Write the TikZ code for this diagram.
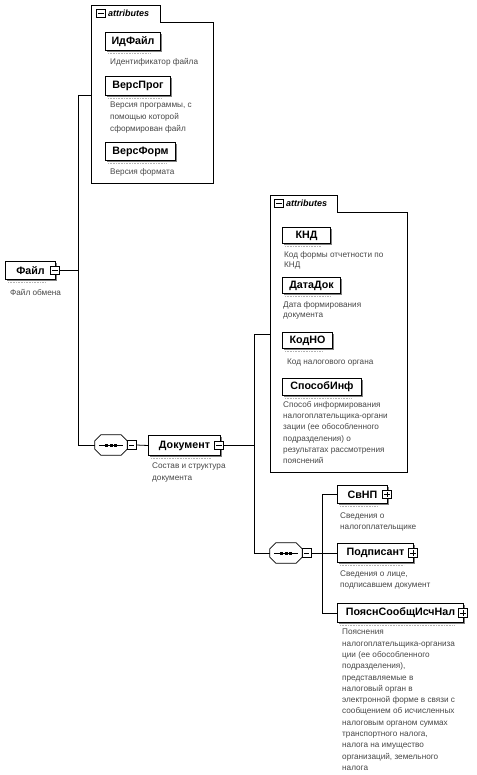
\documentclass[tikz,border=0pt]{standalone}
\usepackage{fontspec}
\setmainfont{Liberation Sans}
\usetikzlibrary{calc,shadows}

\begin{document}
\begin{tikzpicture}[x=1pt,y=-1pt,
    elem/.style={draw,line width=1pt,fill=white,anchor=north west,inner sep=0pt,
        font=\bfseries\fontsize{10.7}{12}\selectfont,
        drop shadow={shadow xshift=1.2pt,shadow yshift=-1.2pt,fill=black!50,opacity=1}},
    note/.style={anchor=north west,align=left,inner sep=0pt,text=black!72,
        font=\fontsize{8.2}{11.3}\selectfont},
    frame/.style={draw,line width=.8pt},
    wire/.style={draw,line width=.8pt},
    tinyline/.style={draw,black!30,line width=1.2pt,dash pattern=on 1pt off .6pt},
    expminus/.style={draw,fill=white,minimum size=8.5pt,inner sep=0pt,line width=.7pt,
        path picture={\draw ([xshift=1.6pt]path picture bounding box.west)
            -- ([xshift=-1.6pt]path picture bounding box.east);}},
    expplus/.style={draw,fill=white,minimum size=8.5pt,inner sep=0pt,line width=.7pt,
        path picture={\draw ([xshift=1.6pt]path picture bounding box.west)
            -- ([xshift=-1.6pt]path picture bounding box.east)
            ([yshift=1.6pt]path picture bounding box.south)
            -- ([yshift=-1.6pt]path picture bounding box.north);}},
    seq/.style={minimum width=32pt,minimum height=20pt,inner sep=0pt},
    tabtext/.style={anchor=west,inner sep=0pt,font=\bfseries\itshape\fontsize{9}{10}\selectfont}]
    \useasboundingbox (0,0) rectangle (476,775);

    % attributes of the root
    \node[minimum width=122,minimum height=161,anchor=north west,inner sep=0pt] (attrA) at (91,22) {};
    \draw[frame] (attrA.south west) |- ($(attrA.north west)+(69,-17)$) |- (attrA.north east) |- (attrA.south west);
    \node[expminus] (attrAexp) at ($(attrA.north west)+(10,-8.5)$) {};
    \node[tabtext] at ($(attrA.north west)+(17,-8.5)$) {attributes};

    \node[elem,minimum width=55,minimum height=18] (idfile) at (105,32) {ИдФайл};
    \node[note] at (110,58) {Идентификатор файла};
    \node[elem,minimum width=65,minimum height=19] (versprog) at (105,76) {ВерсПрог};
    \node[note,font=\fontsize{8.2}{12}\selectfont] at (110,102) {Версия программы, с\\помощью которой\\сформирован файл};
    \node[elem,minimum width=70,minimum height=18] (versform) at (105,142) {ВерсФорм};
    \node[note] at (110,168) {Версия формата};

    % root element
    \node[elem,minimum width=50,minimum height=18] (file) at (5,261) {Файл};
    \node[expminus] (fileexp) at ([xshift=-1pt]file.east) {};
    \node[note] at (10,289) {Файл обмена};

    \coordinate (attrAtie) at (78,95);
    \node[seq] (seqA) at (111,445) {};
    \node[expminus] (seqAexp) at ([xshift=4.5pt]seqA.east) {};
    \draw[wire] (attrAtie) -- (attrAtie -| attrA.west);
    \draw[wire] (attrAtie) |- (seqA.west);
    \draw[wire] (fileexp.east) -- (fileexp.east -| attrAtie);

    % document
    \node[elem,minimum width=72,minimum height=20] (doc) at (148,435) {Документ};
    \node[expminus] (docexp) at ([xshift=-2pt]doc.east) {};
    \node[note] at (152,463) {Состав и структура\\документа};
    \draw[wire] (seqAexp.east) -- (doc.west);

    % attributes of the document
    \node[minimum width=137,minimum height=260,anchor=north west,inner sep=0pt] (attrB) at (270,212) {};
    \draw[frame] (attrB.south west) |- ($(attrB.north west)+(67,-17)$) |- (attrB.north east) |- (attrB.south west);
    \node[expminus] (attrBexp) at ($(attrB.north west)+(9,-8.5)$) {};
    \node[tabtext] at ($(attrB.north west)+(16,-8.5)$) {attributes};

    \node[elem,minimum width=48,minimum height=16] (knd) at (282,227) {КНД};
    \node[note,font=\fontsize{8.2}{10.5}\selectfont] at (284,251) {Код формы отчетности по\\КНД};
    \node[elem,minimum width=58,minimum height=16] (datadok) at (282,277) {ДатаДок};
    \node[note,font=\fontsize{8.2}{10.5}\selectfont] at (283,301) {Дата формирования\\документа};
    \node[elem,minimum width=50,minimum height=16] (kodno) at (282,332) {КодНО};
    \node[note] at (287,359) {Код налогового органа};
    \node[elem,minimum width=79,minimum height=17] (sposob) at (282,378) {СпособИнф};
    \node[note] at (283,401) {Способ информирования\\налогоплательщика-органи\\зации (ее обособленного\\подразделения) о\\результатах рассмотрения\\пояснений};

    \coordinate (attrBtie) at (254,334);
    \node[seq] (seqB) at (286,553) {};
    \node[expminus] (seqBexp) at ([xshift=4.5pt]seqB.east) {};
    \draw[wire] (attrBtie) -- (attrBtie -| attrB.west);
    \draw[wire] (attrBtie) |- (seqB.west);
    \draw[wire] (docexp.east) -- (docexp.east -| attrBtie);

    % children of the document
    \node[elem,minimum width=50,minimum height=18] (svnp) at (337,485) {СвНП};
    \node[expplus] at ([xshift=-1pt]svnp.east) {};
    \node[note,font=\fontsize{8.2}{10.5}\selectfont] at (340,513) {Сведения о\\налогоплательщике};
    \node[elem,minimum width=76,minimum height=19] (podp) at (337,543) {Подписант};
    \node[expplus] at ([xshift=-1pt]podp.east) {};
    \node[note,font=\fontsize{8.2}{10.5}\selectfont] at (340,571) {Сведения о лице,\\подписавшем документ};
    \node[elem,minimum width=126,minimum height=19] (poyasn) at (337,603) {ПояснСообщИсчНал};
    \node[expplus] at ([xshift=-1pt]poyasn.east) {};
    \node[note] at (342,629) {Пояснения\\налогоплательщика-организа\\ции (ее обособленного\\подразделения),\\представляемые в\\налоговый орган в\\электронной форме в связи с\\сообщением об исчисленных\\налоговым органом суммах\\транспортного налога,\\налога на имущество\\организаций, земельного\\налога};

    \coordinate (forkB) at (322,553);
    \draw[wire] (seqBexp.east) -- (podp.west);
    \draw[wire] (forkB |- svnp.west) -- (svnp.west);
    \draw[wire] (forkB |- svnp.west) |- (poyasn.west);

    % sequence compositors
    \foreach \s in {seqA,seqB} {
        \draw[frame,fill=white] ([xshift=6pt]\s.north west) -- ([xshift=-6pt]\s.north east)
            -- ([yshift=-6pt]\s.north east) -- ([yshift=6pt]\s.south east)
            -- ([xshift=-6pt]\s.south east) -- ([xshift=6pt]\s.south west)
            -- ([yshift=6pt]\s.south west) -- ([yshift=-6pt]\s.north west) -- cycle;
        \draw[line width=.9pt] ([xshift=4pt]\s.west) -- ([xshift=-4pt]\s.east);
        \foreach \d in {-4.5,0,4.5}
            \fill ([xshift=\d pt-1.5pt,yshift=-1.5pt]\s.center) rectangle ++(3pt,3pt);
    }

    \foreach \n in {idfile,versprog,versform,file,doc,knd,datadok,kodno,sposob,svnp,podp,poyasn}
        \draw[tinyline] ([xshift=3pt,yshift=-2.8pt]\n.south west) -- ([xshift=-10pt,yshift=-2.8pt]\n.south east);
\end{tikzpicture}
\end{document}
